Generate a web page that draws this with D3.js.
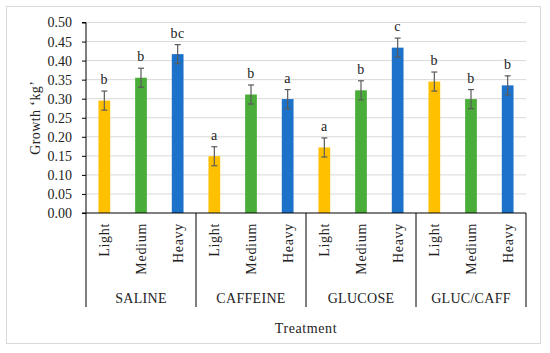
<!DOCTYPE html>
<html>
<head>
<meta charset="utf-8">
<script src="https://cdn.jsdelivr.net/npm/d3@7"></script>
<style>
  body { margin: 0; background: #fff; }
  text { font-family: 'Liberation Serif', serif; fill: #222; }
</style>
</head>
<body>
<script>
const groups = ['SALINE', 'CAFFEINE', 'GLUCOSE', 'GLUC/CAFF']
const levels = ['Light', 'Medium', 'Heavy']
const growth = [
  [0.295, 0.355, 0.417],
  [0.149, 0.311, 0.299],
  [0.172, 0.322, 0.434],
  [0.345, 0.299, 0.335]
]
const errors = [
  [0.025, 0.025, 0.025],
  [0.025, 0.025, 0.025],
  [0.025, 0.025, 0.025],
  [0.025, 0.025, 0.025]
]
const letters = [
  ['b', 'b', 'bc'],
  ['a', 'b', 'a'],
  ['a', 'b', 'c'],
  ['b', 'b', 'b']
]
const yTicks = [0, 0.05, 0.1, 0.15, 0.2, 0.25, 0.3, 0.35, 0.4, 0.45, 0.5]
const colors = { Light: '#ffc000', Medium: '#4aad3a', Heavy: '#1c71c9' }

const width = 550, height = 353
const mLeft = 86, mRight = 526, mTop = 22.5, mBottom = 213

const svg = d3.select('body').append('svg').attr('width', width).attr('height', height)

// outer frame
svg.append('rect')
  .attr('x', 6.5).attr('y', 6.5).attr('width', 534).attr('height', 337)
  .attr('fill', 'none').attr('stroke', '#d9d9d9')

const x0 = d3.scaleBand().domain(groups).range([mLeft, mRight])
const x1 = d3.scaleBand().domain(levels).range([0, x0.bandwidth()]).paddingInner(0.68).paddingOuter(0.34)
const y = d3.scaleLinear().domain([0, 0.5]).range([mBottom, mTop])

// grid
svg.selectAll('line.grid')
  .data(yTicks.slice(1))
  .enter().append('line')
    .attr('class', 'grid')
    .attr('x1', mLeft).attr('x2', mRight)
    .attr('y1', d => y(d)).attr('y2', d => y(d))
    .attr('stroke', '#d9d9d9')

// y axis
const yAxis = d3.axisLeft(y).tickValues(yTicks).tickFormat(d3.format('.2f')).tickSize(4).tickPadding(10)
const gy = svg.append('g').attr('transform', `translate(${mLeft},0)`).call(yAxis)
gy.select('.domain').attr('stroke', '#000').attr('d', `M-4,${mTop}H0V${mBottom}H-4`)
gy.selectAll('.tick line').attr('stroke', '#000')
gy.selectAll('.tick text').attr('font-size', 14).attr('fill', '#222').attr('font-family', 'Liberation Serif')

// bars
const flat = []
groups.forEach((g, gi) => levels.forEach((l, li) => {
  flat.push({ g, l, v: growth[gi][li], e: errors[gi][li], t: letters[gi][li] })
}))

svg.selectAll('rect.bar')
  .data(flat)
  .enter().append('rect')
    .attr('class', 'bar')
    .attr('x', d => x0(d.g) + x1(d.l))
    .attr('width', x1.bandwidth())
    .attr('y', d => y(d.v))
    .attr('height', d => mBottom - y(d.v))
    .attr('fill', d => colors[d.l])

// error bars
const eb = svg.selectAll('g.err').data(flat).enter().append('g').attr('class', 'err')
  .attr('transform', d => `translate(${x0(d.g) + x1(d.l) + x1.bandwidth() / 2},0)`)
  .attr('stroke', '#5a5a5a').attr('stroke-width', 1.2)
eb.append('line').attr('y1', d => y(d.v - d.e)).attr('y2', d => y(d.v + d.e))
eb.append('line').attr('x1', -3).attr('x2', 3).attr('y1', d => y(d.v + d.e)).attr('y2', d => y(d.v + d.e))
eb.append('line').attr('x1', -3).attr('x2', 3).attr('y1', d => y(d.v - d.e)).attr('y2', d => y(d.v - d.e))

// significance letters
svg.selectAll('text.sig')
  .data(flat)
  .enter().append('text')
    .attr('class', 'sig')
    .attr('x', d => x0(d.g) + x1(d.l) + x1.bandwidth() / 2)
    .attr('y', d => y(d.v + d.e) - 7)
    .attr('text-anchor', 'middle')
    .attr('font-size', 14)
    .attr('letter-spacing', 0.5)
    .text(d => d.t)

// category axis
svg.append('line').attr('x1', mLeft).attr('x2', mRight).attr('y1', mBottom).attr('y2', mBottom).attr('stroke', '#000')
svg.selectAll('line.sep')
  .data(groups.map(g => x0(g)).concat([mRight]))
  .enter().append('line')
    .attr('class', 'sep')
    .attr('x1', d => d).attr('x2', d => d)
    .attr('y1', mBottom).attr('y2', 307)
    .attr('stroke', '#000')

svg.selectAll('text.level')
  .data(flat)
  .enter().append('text')
    .attr('class', 'level')
    .attr('transform', d => `translate(${x0(d.g) + x1(d.l) + x1.bandwidth() / 2 + 5},223) rotate(-90)`)
    .attr('text-anchor', 'end')
    .attr('font-size', 14)
    .attr('letter-spacing', 0.7)
    .text(d => d.l)

svg.selectAll('text.group')
  .data(groups)
  .enter().append('text')
    .attr('class', 'group')
    .attr('x', d => x0(d) + x0.bandwidth() / 2)
    .attr('y', 303)
    .attr('text-anchor', 'middle')
    .attr('font-size', 14)
    .attr('letter-spacing', 0.3)
    .text(d => d)

// axis titles
svg.append('text')
  .attr('x', (mLeft + mRight) / 2).attr('y', 333)
  .attr('text-anchor', 'middle').attr('font-size', 14)
  .attr('letter-spacing', 0.6)
  .text('Treatment')

svg.append('text')
  .attr('transform', `translate(40,${(mTop + mBottom) / 2}) rotate(-90)`)
  .attr('text-anchor', 'middle').attr('font-size', 14)
  .attr('letter-spacing', 0.4)
  .text('Growth \u2018kg\u2019')
</script>
</body>
</html>
